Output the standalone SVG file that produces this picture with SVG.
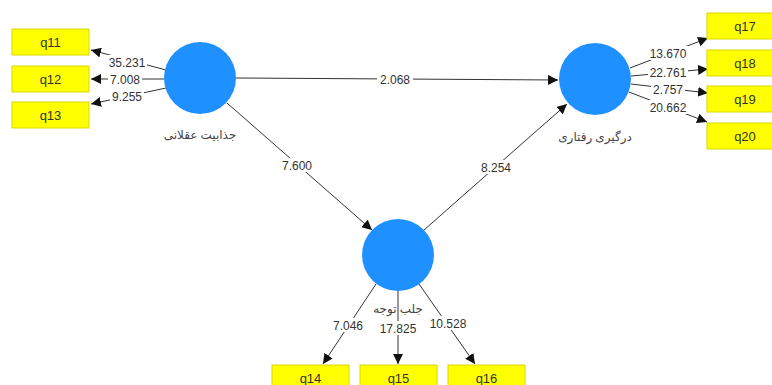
<svg xmlns="http://www.w3.org/2000/svg" width="772" height="385" viewBox="0 0 772 385">
<defs>
<marker id="ah" viewBox="0 0 10 10" refX="10" refY="5" markerWidth="10" markerHeight="10" markerUnits="userSpaceOnUse" orient="auto">
<path d="M0,0 L10,5 L0,10 z" fill="#111"/>
</marker>
<style>
.box{fill:#ffff00;stroke:#d8d800;stroke-width:1}
.lv{fill:#1e90ff}
.bt{font-family:"Liberation Sans",Arial,sans-serif;font-size:13px;fill:#333;text-anchor:middle}
.ct{font-family:"Noto Sans","DejaVu Sans",sans-serif;font-size:12px;fill:#444;text-anchor:middle}
.lt{font-family:"Liberation Sans",Arial,sans-serif;font-size:12px;fill:#333;text-anchor:middle}
.ln{stroke:#333;stroke-width:1;fill:none;marker-end:url(#ah)}
.lb{fill:#fff}
</style>
</defs>
<rect width="772" height="385" fill="#fff"/>
<g id="connectors">
<line class="ln" x1="236" y1="78" x2="558" y2="80"/>
<line class="ln" x1="227" y1="103" x2="372" y2="230"/>
<line class="ln" x1="424" y1="230" x2="567" y2="104"/>
<line class="ln" x1="166" y1="70" x2="91" y2="50"/>
<line class="ln" x1="164" y1="79" x2="91" y2="79"/>
<line class="ln" x1="166" y1="88" x2="91" y2="104"/>
<line class="ln" x1="630" y1="68" x2="708" y2="38"/>
<line class="ln" x1="631" y1="76" x2="708" y2="69"/>
<line class="ln" x1="631" y1="84" x2="708" y2="93"/>
<line class="ln" x1="629" y1="92" x2="707" y2="122"/>
<line class="ln" x1="376" y1="284" x2="323" y2="364"/>
<line class="ln" x1="398" y1="291" x2="398" y2="364"/>
<line class="ln" x1="419" y1="284" x2="475" y2="364"/>
<rect class="lb" x="377" y="72" width="36" height="14"/>
<text class="lt" x="395" y="83.5">2.068</text>
<rect class="lb" x="279" y="158" width="36" height="14"/>
<text class="lt" x="297" y="169.5">7.600</text>
<rect class="lb" x="478" y="160" width="36" height="14"/>
<text class="lt" x="496" y="171.5">8.254</text>
<rect class="lb" x="107" y="55" width="40" height="14"/>
<text class="lt" x="127" y="66.5">35.231</text>
<rect class="lb" x="108" y="73" width="34" height="14"/>
<text class="lt" x="125" y="84">7.008</text>
<rect class="lb" x="110" y="89" width="34" height="14"/>
<text class="lt" x="127" y="100.5">9.255</text>
<rect class="lb" x="648" y="46" width="40" height="14"/>
<text class="lt" x="668" y="57.5">13.670</text>
<rect class="lb" x="648" y="65" width="40" height="14"/>
<text class="lt" x="668" y="76.5">22.761</text>
<rect class="lb" x="651" y="82" width="34" height="14"/>
<text class="lt" x="668" y="93.5">2.757</text>
<rect class="lb" x="648" y="100" width="40" height="14"/>
<text class="lt" x="668" y="111.5">20.662</text>
<rect class="lb" x="331" y="318" width="34" height="14"/>
<text class="lt" x="348" y="329.5">7.046</text>
<rect class="lb" x="378" y="321" width="40" height="14"/>
<text class="lt" x="398" y="332.5">17.825</text>
<rect class="lb" x="428" y="316" width="40" height="14"/>
<text class="lt" x="448" y="327.5">10.528</text>
</g>
<g id="lv1">
<circle class="lv" cx="200" cy="78" r="36"/>
<text class="ct" x="200" y="139">جذابیت عقلانی</text>
</g>
<g id="lv2">
<circle class="lv" cx="595" cy="79" r="36"/>
<text class="ct" x="595" y="141">درگیری رفتاری</text>
</g>
<g id="lv3">
<circle class="lv" cx="398" cy="255" r="36"/>
<text class="ct" x="398" y="313">جلب توجه</text>
</g>
<g id="q11"><rect class="box" x="12" y="29" width="77" height="26"/><text class="bt" x="50.5" y="46.5">q11</text></g>
<g id="q12"><rect class="box" x="12" y="66" width="77" height="26"/><text class="bt" x="50.5" y="83.5">q12</text></g>
<g id="q13"><rect class="box" x="12" y="102" width="77" height="26"/><text class="bt" x="50.5" y="119.5">q13</text></g>
<g id="q17"><rect class="box" x="707" y="13" width="77" height="26"/><text class="bt" x="745" y="30.5">q17</text></g>
<g id="q18"><rect class="box" x="707" y="50" width="77" height="26"/><text class="bt" x="745" y="67.5">q18</text></g>
<g id="q19"><rect class="box" x="707" y="86" width="77" height="26"/><text class="bt" x="745" y="103.5">q19</text></g>
<g id="q20"><rect class="box" x="707" y="123" width="77" height="26"/><text class="bt" x="745" y="140.5">q20</text></g>
<g id="q14"><rect class="box" x="272" y="365" width="77" height="26"/><text class="bt" x="310.5" y="382.5">q14</text></g>
<g id="q15"><rect class="box" x="360" y="365" width="77" height="26"/><text class="bt" x="398.5" y="382.5">q15</text></g>
<g id="q16"><rect class="box" x="448" y="365" width="77" height="26"/><text class="bt" x="486.5" y="382.5">q16</text></g>
</svg>
